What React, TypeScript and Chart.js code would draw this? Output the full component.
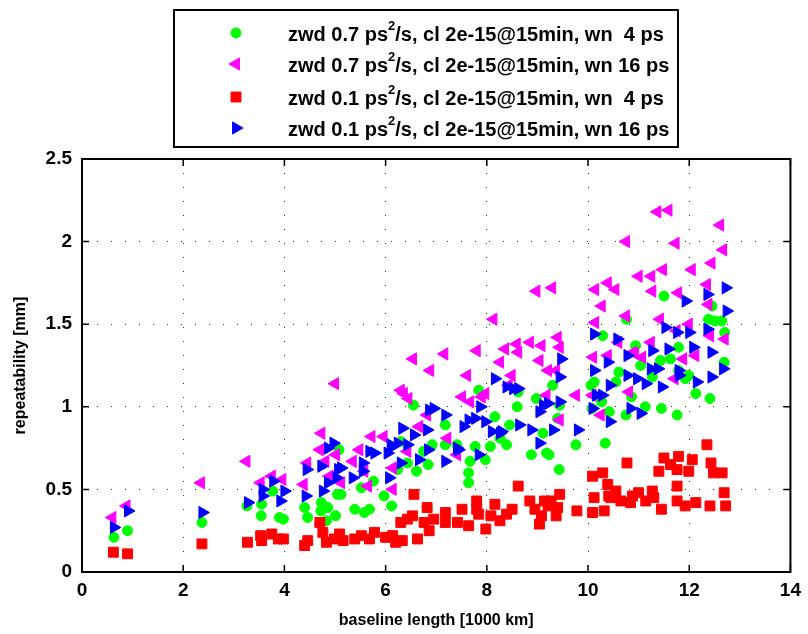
import React, { useEffect, useRef } from 'react';
import { Chart, registerables } from 'chart.js';

Chart.register(...registerables);

const xTickValues = [0, 2, 4, 6, 8, 10, 12, 14];
const yTickValues = [0, 0.5, 1, 1.5, 2, 2.5];

const seriesLabels = [
  'zwd 0.7 ps^2/s, cl 2e-15@15min, wn  4 ps',
  'zwd 0.7 ps^2/s, cl 2e-15@15min, wn 16 ps',
  'zwd 0.1 ps^2/s, cl 2e-15@15min, wn  4 ps',
  'zwd 0.1 ps^2/s, cl 2e-15@15min, wn 16 ps',
];
const seriesColors = ['#00ff00', '#ff00ff', '#ff0000', '#0000ff'];

// zwd 0.7, wn 4 (green circles)
const greenX = [0.63, 0.9, 2.37, 3.26, 3.54, 3.55, 3.77, 3.9, 3.98, 4.4, 4.46, 4.73, 4.72, 4.86, 4.83, 5.01, 5.05, 5.08, 5.12, 5.39, 5.58, 5.68, 5.52, 5.76, 5.97, 6.12, 6.24, 6.3, 6.43, 6.55, 6.61, 6.75, 6.82, 6.84, 6.92, 7.18, 7.18, 7.41, 7.64, 7.64, 7.67, 7.77, 7.84, 7.97, 8.07, 8.16, 8.26, 8.39, 8.45, 8.6, 8.62, 8.88, 8.98, 9.11, 9.18, 9.23, 9.3, 9.4, 9.43, 9.44, 9.76, 10.06, 10.08, 10.12, 10.27, 10.29, 10.34, 10.42, 10.55, 10.61, 10.75, 10.76, 10.86, 10.94, 11.04, 11.13, 11.27, 11.43, 11.45, 11.5, 11.63, 11.76, 11.79, 11.79, 11.92, 11.99, 12.13, 12.38, 12.41, 12.45, 12.5, 12.64, 12.7, 12.69];
const greenY = [0.21, 0.25, 0.3, 0.4, 0.34, 0.41, 0.49, 0.33, 0.32, 0.39, 0.33, 0.42, 0.37, 0.39, 0.31, 0.34, 0.47, 0.74, 0.47, 0.38, 0.36, 0.38, 0.51, 0.55, 0.46, 0.4, 0.62, 0.79, 0.66, 1.01, 0.61, 0.73, 0.39, 0.65, 0.77, 0.89, 0.77, 0.77, 0.6, 0.54, 0.67, 0.76, 1.1, 0.68, 0.76, 0.94, 0.81, 0.77, 0.89, 1.0, 1.09, 0.71, 1.05, 0.84, 0.72, 0.71, 1.13, 0.93, 0.62, 1.01, 0.77, 1.13, 0.99, 1.15, 1.03, 1.43, 0.78, 0.97, 1.15, 1.21, 0.95, 1.53, 1.06, 1.37, 1.25, 1.0, 1.18, 1.28, 0.99, 1.67, 1.29, 0.95, 1.36, 1.22, 1.17, 1.19, 1.08, 1.53, 1.05, 1.61, 1.52, 1.52, 1.45, 1.27];

// zwd 0.7, wn 16 (magenta left triangles)
const magentaX = [0.6, 0.88, 2.35, 3.25, 3.53, 3.75, 3.96, 4.38, 4.45, 4.73, 4.7, 4.81, 4.89, 5.0, 5.02, 5.12, 5.35, 5.48, 5.58, 5.65, 5.72, 5.96, 6.14, 6.14, 6.3, 6.36, 6.45, 6.43, 6.54, 6.66, 6.82, 6.88, 7.16, 7.22, 7.41, 7.51, 7.61, 7.67, 7.8, 7.9, 7.97, 8.13, 8.26, 8.36, 8.43, 8.49, 8.59, 8.62, 8.85, 8.98, 9.04, 9.08, 9.18, 9.21, 9.29, 9.37, 9.4, 9.44, 9.44, 9.76, 10.1, 10.09, 10.14, 10.14, 10.25, 10.27, 10.39, 10.39, 10.54, 10.6, 10.75, 10.75, 10.81, 10.89, 10.93, 11.0, 11.07, 11.24, 11.25, 11.27, 11.37, 11.42, 11.48, 11.59, 11.71, 11.73, 11.75, 11.78, 11.88, 11.99, 12.05, 12.12, 12.35, 12.38, 12.41, 12.44, 12.61, 12.67, 12.7];
const magentaY = [0.33, 0.4, 0.54, 0.67, 0.54, 0.58, 0.56, 0.53, 0.66, 0.84, 0.74, 0.67, 0.58, 1.14, 0.71, 0.54, 0.67, 0.74, 0.61, 0.52, 0.82, 0.82, 0.63, 0.5, 1.1, 1.08, 1.05, 0.73, 1.29, 0.88, 0.95, 1.22, 1.32, 0.81, 0.71, 1.06, 1.19, 1.03, 1.34, 1.06, 1.08, 1.53, 1.27, 1.35, 1.13, 1.19, 1.38, 1.33, 1.39, 1.7, 1.28, 1.37, 1.07, 1.22, 1.72, 1.22, 1.42, 1.36, 0.92, 1.07, 1.3, 1.07, 1.71, 1.51, 0.95, 1.61, 1.75, 1.31, 1.71, 1.39, 2.0, 1.55, 1.09, 1.33, 1.32, 1.79, 1.3, 1.39, 1.79, 1.7, 2.18, 1.53, 1.83, 2.19, 1.17, 1.99, 1.46, 1.69, 1.29, 1.5, 1.83, 1.31, 1.74, 1.62, 1.43, 1.87, 2.1, 1.95, 1.41];

// zwd 0.1, wn 4 (red squares)
const redX = [0.62, 0.9, 2.37, 3.27, 3.53, 3.55, 3.75, 3.88, 3.98, 4.4, 4.46, 4.7, 4.76, 4.83, 4.99, 5.09, 5.16, 5.39, 5.52, 5.68, 5.78, 6.0, 6.14, 6.2, 6.33, 6.3, 6.43, 6.53, 6.56, 6.63, 6.76, 6.82, 6.86, 6.95, 7.18, 7.18, 7.42, 7.51, 7.64, 7.8, 7.8, 7.84, 7.98, 8.08, 8.16, 8.26, 8.39, 8.5, 8.62, 8.85, 8.95, 9.04, 9.08, 9.14, 9.21, 9.27, 9.37, 9.4, 9.44, 9.78, 10.09, 10.12, 10.09, 10.29, 10.32, 10.39, 10.41, 10.45, 10.55, 10.65, 10.77, 10.84, 10.88, 11.0, 11.14, 11.27, 11.3, 11.4, 11.45, 11.5, 11.63, 11.76, 11.79, 11.76, 11.76, 11.92, 11.99, 12.06, 12.13, 12.35, 12.41, 12.43, 12.48, 12.65, 12.69, 12.72];
const redY = [0.12, 0.11, 0.17, 0.18, 0.22, 0.19, 0.23, 0.2, 0.2, 0.16, 0.19, 0.3, 0.24, 0.18, 0.2, 0.23, 0.19, 0.2, 0.22, 0.2, 0.24, 0.21, 0.22, 0.18, 0.19, 0.3, 0.32, 0.34, 0.47, 0.2, 0.3, 0.39, 0.25, 0.32, 0.36, 0.3, 0.3, 0.38, 0.28, 0.43, 0.38, 0.35, 0.26, 0.34, 0.41, 0.31, 0.35, 0.38, 0.52, 0.43, 0.38, 0.29, 0.34, 0.43, 0.4, 0.43, 0.34, 0.39, 0.47, 0.37, 0.58, 0.45, 0.36, 0.6, 0.37, 0.53, 0.46, 0.45, 0.49, 0.43, 0.66, 0.42, 0.46, 0.48, 0.43, 0.49, 0.45, 0.61, 0.38, 0.69, 0.65, 0.62, 0.7, 0.52, 0.43, 0.4, 0.61, 0.68, 0.42, 0.77, 0.4, 0.66, 0.6, 0.6, 0.48, 0.4];

// zwd 0.1, wn 16 (blue right triangles)
const blueX = [0.63, 0.91, 2.38, 3.28, 3.57, 3.57, 3.78, 3.92, 4.0, 4.44, 4.42, 4.73, 4.76, 4.86, 4.86, 4.97, 5.06, 5.03, 5.12, 5.35, 5.55, 5.55, 5.68, 5.78, 6.04, 6.07, 6.1, 6.14, 6.24, 6.3, 6.33, 6.43, 6.56, 6.66, 6.82, 6.84, 6.86, 6.95, 7.18, 7.18, 7.41, 7.44, 7.54, 7.64, 7.77, 7.84, 7.87, 7.97, 8.1, 8.16, 8.26, 8.29, 8.39, 8.52, 8.62, 8.64, 8.88, 9.04, 9.04, 9.11, 9.21, 9.31, 9.44, 9.44, 9.47, 9.8, 10.09, 10.12, 10.12, 10.16, 10.28, 10.39, 10.43, 10.43, 10.58, 10.78, 10.78, 10.84, 10.97, 11.04, 11.14, 11.24, 11.27, 11.38, 11.46, 11.53, 11.59, 11.76, 11.79, 11.8, 11.93, 12.0, 12.08, 12.15, 12.36, 12.36, 12.44, 12.44, 12.67, 12.72, 12.74];
const blueY = [0.27, 0.37, 0.36, 0.42, 0.46, 0.5, 0.55, 0.43, 0.49, 0.62, 0.46, 0.64, 0.49, 0.54, 0.75, 0.78, 0.62, 0.57, 0.63, 0.57, 0.66, 0.61, 0.73, 0.72, 0.72, 0.57, 0.77, 0.76, 0.78, 0.66, 0.87, 0.77, 0.83, 0.68, 0.86, 0.74, 0.98, 0.99, 0.95, 0.67, 0.75, 0.74, 0.88, 0.92, 0.93, 0.71, 1.0, 0.91, 0.85, 1.17, 0.84, 0.85, 1.12, 1.11, 1.11, 0.89, 0.86, 0.97, 0.78, 1.01, 1.02, 0.86, 1.03, 1.18, 1.29, 0.86, 0.99, 1.44, 1.22, 1.07, 1.07, 1.27, 1.13, 0.91, 1.41, 1.31, 1.19, 0.99, 1.17, 0.96, 1.14, 1.23, 1.34, 1.23, 1.12, 1.48, 1.35, 1.45, 1.22, 1.19, 1.64, 1.45, 1.36, 1.15, 1.68, 1.47, 1.33, 1.18, 1.23, 1.72, 1.58];

const FONT = '"Liberation Sans", Arial, Helvetica, sans-serif';

function pts(xs: number[], ys: number[]) {
  return xs.map((x, i) => ({ x, y: ys[i] }));
}

function drawMarker(ctx: CanvasRenderingContext2D, kind: number, x: number, y: number) {
  ctx.save();
  ctx.fillStyle = seriesColors[kind];
  ctx.strokeStyle = seriesColors[kind];
  ctx.lineWidth = 1;
  ctx.beginPath();
  const r = 7;
  if (kind === 0) {
    ctx.arc(x, y, 5, 0, Math.PI * 2);
  } else if (kind === 2) {
    const s = r * Math.SQRT1_2;
    ctx.rect(x - s, y - s, 2 * s, 2 * s);
  } else {
    const dir = kind === 3 ? 1 : -1;
    let a = dir * Math.PI / 2;
    for (let k = 0; k < 3; k++) {
      const px = x + Math.sin(a) * r;
      const py = y - Math.cos(a) * r;
      if (k === 0) ctx.moveTo(px, py); else ctx.lineTo(px, py);
      a += (2 * Math.PI) / 3;
    }
    ctx.closePath();
  }
  ctx.fill();
  ctx.stroke();
  ctx.restore();
}

const legendPlugin = {
  id: 'boxLegend',
  afterDraw(chart: any) {
    const ctx: CanvasRenderingContext2D = chart.ctx;
    ctx.save();
    ctx.fillStyle = '#fff';
    ctx.fillRect(174, 10, 504, 137);
    ctx.strokeStyle = '#000';
    ctx.lineWidth = 2;
    ctx.strokeRect(174, 10, 504, 137);
    const rows = [33, 64, 97, 128];
    seriesLabels.forEach((label, i) => {
      const y = rows[i];
      drawMarker(ctx, i, 236, y);
      const [pre, post] = label.split('^2');
      ctx.fillStyle = '#000';
      ctx.textBaseline = 'middle';
      ctx.font = `bold 20px ${FONT}`;
      let x = 288;
      ctx.fillText(pre, x, y + 2);
      x += ctx.measureText(pre).width;
      ctx.font = `bold 13px ${FONT}`;
      ctx.fillText('2', x, y - 7);
      x += ctx.measureText('2').width;
      ctx.font = `bold 20px ${FONT}`;
      ctx.fillText(post, x, y + 2);
    });
    ctx.restore();
  },
};

const framePlugin = {
  id: 'frameBox',
  afterDatasetsDraw(chart: any) {
    const { ctx, chartArea: a, scales } = chart;
    ctx.save();
    ctx.strokeStyle = '#000';
    ctx.lineWidth = 2;
    ctx.strokeRect(a.left, a.top, a.right - a.left, a.bottom - a.top);
    ctx.lineWidth = 1.5;
    const L = 7;
    ctx.beginPath();
    xTickValues.forEach((v) => {
      const px = scales.x.getPixelForValue(v);
      ctx.moveTo(px, a.bottom);
      ctx.lineTo(px, a.bottom - L);
      ctx.moveTo(px, a.top);
      ctx.lineTo(px, a.top + L);
    });
    yTickValues.forEach((v) => {
      const py = scales.y.getPixelForValue(v);
      ctx.moveTo(a.left, py);
      ctx.lineTo(a.left + L, py);
      ctx.moveTo(a.right, py);
      ctx.lineTo(a.right - L, py);
    });
    ctx.stroke();
    ctx.restore();
  },
};

export default function App() {
  const ref = useRef<HTMLCanvasElement>(null);
  useEffect(() => {
    if (!ref.current) return;
    const common = { borderWidth: 1, pointHoverRadius: 0 };
    const chart = new Chart(ref.current, {
      type: 'scatter',
      data: {
        datasets: [
          { ...common, label: seriesLabels[0], data: pts(greenX, greenY), pointStyle: 'circle', pointRadius: 5, backgroundColor: seriesColors[0], borderColor: seriesColors[0], order: 4 },
          { ...common, label: seriesLabels[1], data: pts(magentaX, magentaY), pointStyle: 'triangle', pointRotation: -90, pointRadius: 7, backgroundColor: seriesColors[1], borderColor: seriesColors[1], order: 3 },
          { ...common, label: seriesLabels[2], data: pts(redX, redY), pointStyle: 'rect', pointRadius: 7, backgroundColor: seriesColors[2], borderColor: seriesColors[2], order: 2 },
          { ...common, label: seriesLabels[3], data: pts(blueX, blueY), pointStyle: 'triangle', pointRotation: 90, pointRadius: 7, backgroundColor: seriesColors[3], borderColor: seriesColors[3], order: 1 },
        ] as any,
      },
      options: {
        responsive: false,
        animation: false,
        events: [],
        devicePixelRatio: 1,
        layout: { padding: { top: 159, right: 12, left: 0, bottom: 0 } },
        plugins: { legend: { display: false }, tooltip: { enabled: false } },
        scales: {
          x: {
            type: 'linear',
            min: 0,
            max: 14,
            afterBuildTicks: (s: any) => { s.ticks = xTickValues.map((v) => ({ value: v })); },
            afterFit: (s: any) => { s.height = 62; },
            ticks: { color: '#000', font: { family: FONT, size: 19, weight: 'bold' }, padding: 7, maxRotation: 0, callback: (v: any) => String(v) },
            grid: { color: '#333', lineWidth: 1, drawTicks: false },
            border: { display: true, color: '#000', width: 2, dash: [1, 13] },
            title: { display: true, text: 'baseline length [1000 km]', color: '#000', font: { family: FONT, size: 16, weight: 'bold' }, padding: { top: 0, bottom: 4 } },
          },
          y: {
            type: 'linear',
            min: 0,
            max: 2.5,
            afterBuildTicks: (s: any) => { s.ticks = yTickValues.map((v) => ({ value: v })); },
            afterFit: (s: any) => { s.width = 82; },
            ticks: { color: '#000', font: { family: FONT, size: 19, weight: 'bold' }, padding: 10, callback: (v: any) => String(v) },
            grid: { color: '#333', lineWidth: 1, drawTicks: false },
            border: { display: true, color: '#000', width: 2, dash: [1, 13] },
            title: { display: true, text: 'repeatability [mm]', color: '#000', font: { family: FONT, size: 16, weight: 'bold' }, padding: { top: 11, bottom: 0 } },
          },
        },
      } as any,
      plugins: [framePlugin, legendPlugin],
    });
    return () => chart.destroy();
  }, []);
  return (
    <div style={{ position: 'fixed', left: 0, top: 0, width: 808, height: 634, background: '#fff' }}>
      <canvas ref={ref} width={808} height={634} style={{ display: 'block' }} />
    </div>
  );
}
